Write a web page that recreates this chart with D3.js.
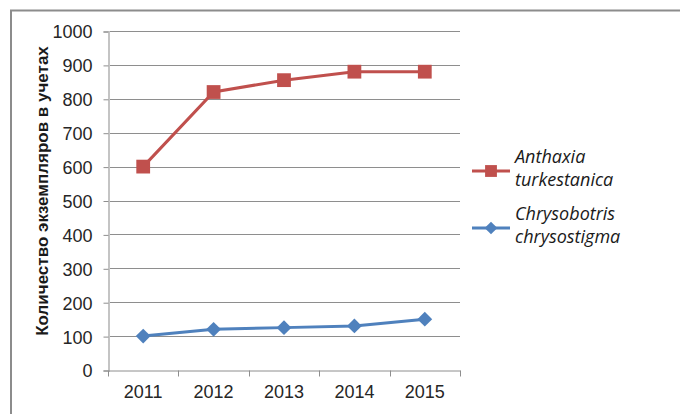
<!DOCTYPE html>
<html>
<head>
<meta charset="utf-8">
<script src="https://cdn.jsdelivr.net/npm/d3@7"></script>
<style>
  body { margin: 0; background: #fff; }
  svg { display: block; }
</style>
</head>
<body>
<svg id="viz" width="680" height="414"></svg>
<script>
var years = ["2011", "2012", "2013", "2014", "2015"];
var anthaxia = [600, 820, 855, 880, 880];       // Anthaxia turkestanica
var chrysobotris = [100, 120, 125, 130, 150];   // Chrysobotris chrysostigma
var yTicks = [0, 100, 200, 300, 400, 500, 600, 700, 800, 900, 1000];
var seriesNames = [["Anthaxia", "turkestanica"], ["Chrysobotris", "chrysostigma"]];
var axisTitle = "Количество экземпляров в учетах";

var plot = {left: 108, right: 460, top: 31, bottom: 370};

var svg = d3.select("#viz");

// outer frame (cut off at right/bottom in the original)
svg.append("path")
  .attr("d", "M11,414 V10.5 H680")
  .attr("fill", "none")
  .attr("stroke", "#8c8c8c")
  .attr("stroke-width", 2);

var x = d3.scaleBand().domain(years).range([plot.left, plot.right]);
var y = d3.scaleLinear().domain([0, 1000]).range([plot.bottom, plot.top]);

// gridlines
svg.append("g")
  .selectAll("line")
  .data(yTicks.slice(1))
  .enter().append("line")
  .attr("x1", plot.left).attr("x2", plot.right)
  .attr("y1", function(d) { return Math.round(y(d)) + 0.5; })
  .attr("y2", function(d) { return Math.round(y(d)) + 0.5; })
  .attr("stroke", "#8e8e8e")
  .attr("stroke-width", 1);

function styleTicks(sel) {
  sel.attr("font-family", "'Liberation Sans', Arial, sans-serif").attr("font-size", 18);
  sel.selectAll(".tick text").style("fill", "#262626");
}

// y axis
var yAxis = svg.append("g")
  .attr("transform", "translate(" + (plot.left + 0.5) + ",0.5)")
  .call(d3.axisLeft(y).tickValues(yTicks).tickSize(5).tickPadding(11).tickFormat(d3.format("d")))
  .call(styleTicks);
yAxis.select(".domain").attr("stroke", "#c4c4c4").attr("stroke-width", 2);
yAxis.selectAll(".tick line").attr("stroke", "#8e8e8e");
yAxis.selectAll(".tick text").attr("dy", "0.36em");

// x axis: ticks between categories
var xAxis = svg.append("g")
  .attr("transform", "translate(0," + (plot.bottom + 0.5) + ")")
  .call(d3.axisBottom(x).tickSize(0).tickPadding(15))
  .call(styleTicks);
xAxis.select(".domain").attr("stroke", "#8e8e8e").attr("stroke-width", 1);
xAxis.selectAll(".tick text").attr("dy", "0.71em");
xAxis.append("g")
  .selectAll("line")
  .data(years.concat(["end"]))
  .enter().append("line")
  .attr("x1", function(d, i) { return Math.round(plot.left + i * x.step()) + 0.5; })
  .attr("x2", function(d, i) { return Math.round(plot.left + i * x.step()) + 0.5; })
  .attr("y1", 0).attr("y2", 6)
  .attr("stroke", "#8e8e8e");

// axis title
svg.append("text")
  .attr("transform", "translate(48,191) rotate(-90)")
  .attr("text-anchor", "middle")
  .style("font-family", "'Liberation Sans', Arial, sans-serif")
  .style("font-size", "17px")
  .style("font-weight", "bold")
  .style("fill", "#1a1a1a")
  .text(axisTitle);

var line = d3.line()
  .x(function(d, i) { return x(years[i]) + x.bandwidth() / 2; })
  .y(function(d) { return y(d); });

var red = "#C0504D", blue = "#4F81BD";
var square = d3.symbol().type(d3.symbolSquare).size(190);
var diamond = d3.symbol().type(d3.symbolSquare).size(110);

function drawSeries(values, color, sym, rot) {
  svg.append("path")
    .datum(values)
    .attr("d", line)
    .attr("fill", "none")
    .attr("stroke", color)
    .attr("stroke-width", 3);
  svg.append("g")
    .selectAll("path")
    .data(values)
    .enter().append("path")
    .attr("d", sym)
    .attr("transform", function(d, i) {
      return "translate(" + (x(years[i]) + x.bandwidth() / 2) + "," + y(d) + ") rotate(" + rot + ")";
    })
    .attr("fill", color);
}
drawSeries(anthaxia, red, square, 0);
drawSeries(chrysobotris, blue, diamond, 45);

// legend
var legendRows = [
  {name: seriesNames[0], color: red, sym: d3.symbol().type(d3.symbolSquare).size(140), rot: 0, y: 171},
  {name: seriesNames[1], color: blue, sym: d3.symbol().type(d3.symbolSquare).size(80), rot: 45, y: 228}
];
var lg = svg.append("g")
  .style("font-family", "'Open Sans', sans-serif")
  .style("font-style", "italic")
  .style("font-size", "18px")
  .style("fill", "#1a1a1a");
legendRows.forEach(function(r) {
  lg.append("line")
    .attr("x1", 472).attr("x2", 510)
    .attr("y1", r.y).attr("y2", r.y)
    .attr("stroke", r.color).attr("stroke-width", 3);
  lg.append("path")
    .attr("d", r.sym)
    .attr("transform", "translate(491," + r.y + ") rotate(" + r.rot + ")")
    .attr("fill", r.color);
  lg.append("text").attr("x", 515).attr("y", r.y - 8).text(r.name[0]);
  lg.append("text").attr("x", 515).attr("y", r.y + 15).text(r.name[1]);
});
</script>
</body>
</html>
